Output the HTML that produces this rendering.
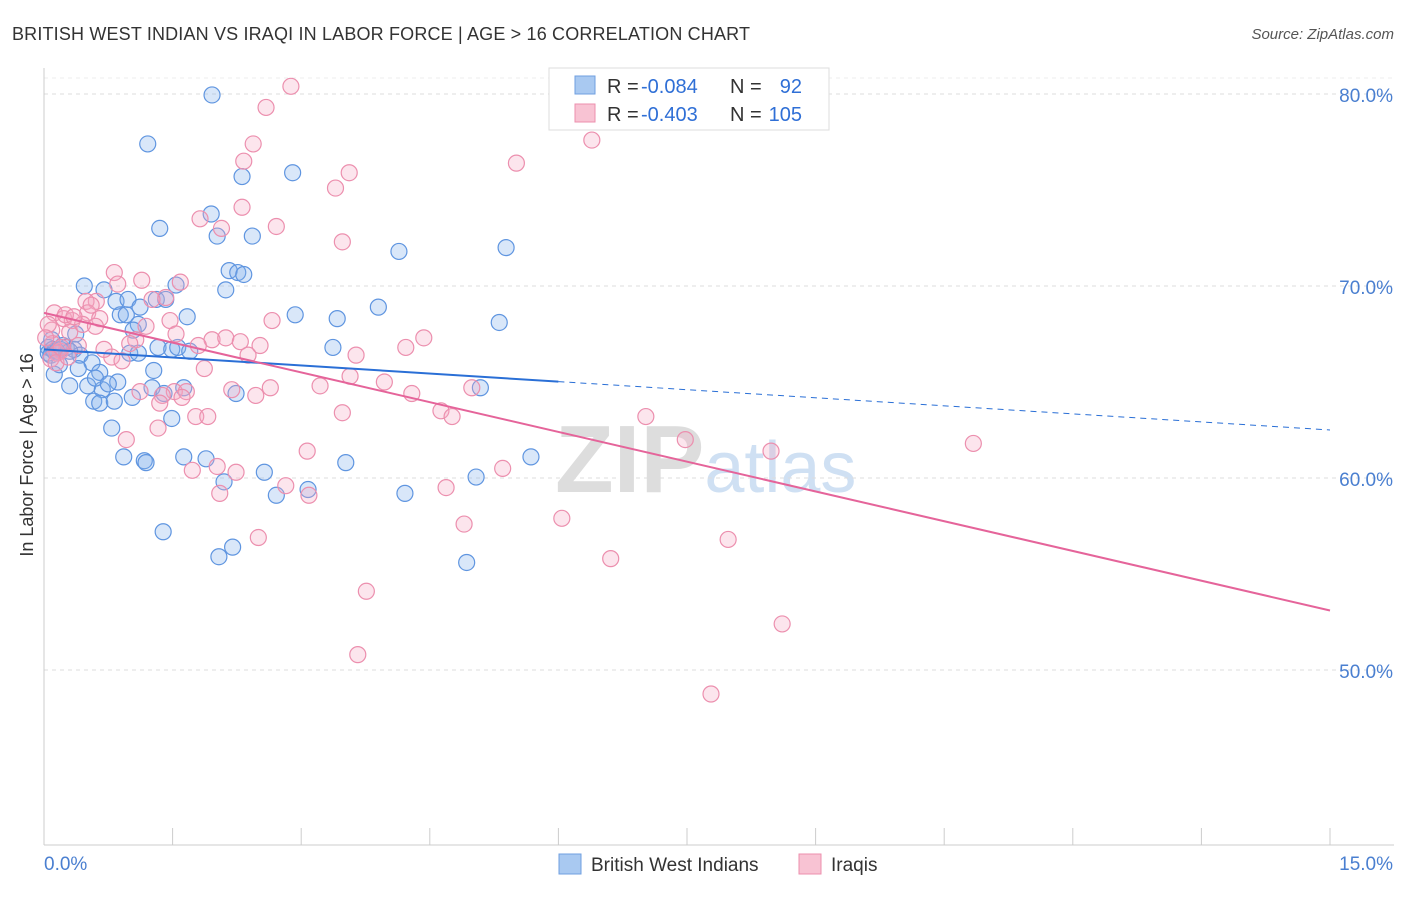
<!DOCTYPE html>
<html><head><meta charset="utf-8">
<style>
body{margin:0;background:#fff;font-family:"Liberation Sans",sans-serif;}
svg text{font-family:"Liberation Sans",sans-serif;}
</style></head>
<body>
<svg id="chart" width="1406" height="892" xmlns="http://www.w3.org/2000/svg">
<text x="12" y="40" font-size="18" fill="#333" textLength="738">BRITISH WEST INDIAN VS IRAQI IN LABOR FORCE | AGE &gt; 16 CORRELATION CHART</text>
<text x="1394" y="39" font-size="15" fill="#555" text-anchor="end" font-style="italic">Source: ZipAtlas.com</text>
<text x="555" y="492" font-size="96" fill="#ddd" font-family="Liberation Serif" font-weight="bold">ZIP<tspan fill="#cfe0f3" font-family="Liberation Sans" font-weight="normal" font-size="72">atlas</tspan></text>
<g id="grid"></g>
<g id="axes"></g>
<g id="blue"></g>
<g id="pink"></g>
<g id="trends"></g>
<text transform="translate(33,455) rotate(-90)" font-size="18" fill="#333" text-anchor="middle">In Labor Force | Age &gt; 16</text>
<g>
<rect x="549" y="68" width="280" height="62" fill="#fff" stroke="#ddd"/>
<rect x="575" y="76" width="20" height="18" fill="#a9c9f1" stroke="#6f9fe0"/>
<rect x="575" y="104" width="20" height="18" fill="#f8c3d3" stroke="#ec8fae"/>
<text x="607" y="93" font-size="20" fill="#333">R =</text>
<text x="641" y="93" font-size="20" fill="#2f6fd6">-0.084</text>
<text x="730" y="93" font-size="20" fill="#333">N =</text>
<text x="802" y="93" font-size="20" fill="#2f6fd6" text-anchor="end">92</text>
<text x="607" y="121" font-size="20" fill="#333">R =</text>
<text x="641" y="121" font-size="20" fill="#2f6fd6">-0.403</text>
<text x="730" y="121" font-size="20" fill="#333">N =</text>
<text x="802" y="121" font-size="20" fill="#2f6fd6" text-anchor="end">105</text>
</g>
<g>
<rect x="559" y="854" width="22" height="20" fill="#a9c9f1" stroke="#6f9fe0"/>
<text x="591" y="871" font-size="19" fill="#333">British West Indians</text>
<rect x="799" y="854" width="22" height="20" fill="#f8c3d3" stroke="#ec8fae"/>
<text x="831" y="871" font-size="19" fill="#333">Iraqis</text>
</g>
</svg>
<script>
const yTicks=[50,60,70,80];
const yTickLabels=["50.0%","60.0%","70.0%","80.0%"];
const xTicks=[0,1.5,3,4.5,6,7.5,9,10.5,12,13.5,15];
const blueX=[1.96,1.21,2.31,2.90,1.35,1.95,2.02,2.43,4.14,5.39,2.16,2.26,2.33,2.12,0.47,0.70,0.84,0.98,1.31,1.42,1.54,1.12,0.89,0.96,1.67,2.93,3.42,3.90,5.31,1.10,1.04,0.37,0.09,0.05,0.19,0.26,0.35,0.42,0.12,1.00,1.10,1.33,1.49,1.56,1.70,3.37,0.56,0.65,0.40,1.28,0.12,0.30,0.51,0.68,0.86,1.26,1.63,0.58,0.65,0.82,1.03,1.40,2.24,5.09,0.79,1.49,0.93,1.17,1.19,1.63,1.89,2.57,3.52,5.68,5.04,2.10,2.71,3.08,4.21,1.39,2.04,2.20,4.93,0.05,0.15,0.22,0.10,0.30,0.08,0.18,0.60,0.75];
const blueY=[79.95,77.4,75.7,75.9,73.0,73.75,72.6,72.6,71.8,72.0,70.8,70.7,70.6,69.8,70.0,69.8,69.2,69.3,69.3,69.3,70.05,68.9,68.5,68.5,68.4,68.5,68.3,68.9,68.1,68.0,67.7,67.5,67.2,66.8,66.7,66.8,66.7,66.4,66.6,66.5,66.5,66.8,66.7,66.8,66.6,66.8,66.0,65.5,65.7,65.6,65.4,64.8,64.8,64.6,65.0,64.7,64.7,64.0,63.9,64.0,64.2,64.4,64.4,64.7,62.6,63.1,61.1,60.9,60.8,61.1,61.0,60.3,60.8,61.1,60.05,59.8,59.1,59.4,59.2,57.2,55.9,56.4,55.6,66.5,66.6,66.9,66.7,66.6,66.4,65.9,65.2,64.9];
const pinkX=[2.88,2.59,2.44,2.33,6.39,5.51,3.56,3.40,2.31,1.82,2.07,2.71,3.48,0.82,1.14,0.86,1.59,1.42,1.26,0.61,0.49,0.12,0.23,0.33,0.51,0.65,1.47,2.66,0.09,1.19,1.54,4.43,1.07,1.96,2.12,0.40,1.80,2.29,2.52,4.22,3.64,0.19,0.79,2.38,0.91,1.87,3.57,3.97,3.22,2.64,2.19,2.47,1.52,1.66,1.38,1.12,1.35,1.61,4.29,4.99,3.48,4.63,4.76,1.77,1.91,1.33,0.96,7.02,7.48,8.48,10.84,3.07,2.02,1.73,2.24,5.35,4.69,2.82,3.09,2.05,4.90,6.04,2.50,6.61,7.98,3.76,8.61,3.66,7.78,0.05,0.10,0.15,0.25,0.30,0.55,0.70,0.45,0.02,0.08,0.20,0.35,0.60,1.00,0.14,0.28];
const pinkY=[80.4,79.3,77.4,76.5,77.6,76.4,75.9,75.1,74.1,73.5,73.0,73.1,72.3,70.7,70.3,70.1,70.2,69.4,69.3,69.2,69.2,68.6,68.3,68.2,68.6,68.3,68.2,68.2,67.7,67.9,67.5,67.3,67.2,67.2,67.3,66.9,66.9,67.1,66.9,66.8,66.4,66.6,66.3,66.4,66.1,65.7,65.3,65.0,64.8,64.7,64.6,64.3,64.5,64.5,64.3,64.5,63.9,64.2,64.4,64.7,63.4,63.5,63.2,63.2,63.2,62.6,62.0,63.2,62.0,61.4,61.8,61.4,60.6,60.4,60.3,60.5,59.5,59.6,59.1,59.2,57.6,57.9,56.9,55.8,56.8,54.1,52.4,50.8,48.75,68.0,67.0,66.5,68.5,67.6,69.0,66.7,68.0,67.3,66.2,66.8,68.4,67.9,67.0,66.0,66.3];
const blueTrend=[66.7,62.5];
const pinkTrend=[68.6,53.1];
const blueSolidEnd=6.0;

const NS="http://www.w3.org/2000/svg";
const X0=44,X1=1330,YT=94,YB=670;
const xs=v=>X0+(v/15)*(X1-X0);
const ys=v=>YB-(v-50)/30*(YB-YT);
function mk(tag,attrs,parent){const e=document.createElementNS(NS,tag);for(const k in attrs)e.setAttribute(k,attrs[k]);parent.appendChild(e);return e;}
const grid=document.getElementById('grid'),axes=document.getElementById('axes');
yTicks.forEach((t,i)=>{
  const l=mk('line',{x1:X0,x2:1394,y1:ys(t),y2:ys(t),stroke:'#ddd','stroke-dasharray':'4,4'},grid);
  
  
  const tx=mk('text',{x:1393,y:ys(t)+8,'font-size':19,fill:'#4a7fd0','text-anchor':'end'},axes);
  tx.textContent=yTickLabels[i];
  
  
});
const tg=mk('line',{x1:X0,x2:1394,y1:78,y2:78,stroke:'#eee','stroke-dasharray':'4,4'},grid);


const xa=mk('line',{x1:X0,x2:1394,y1:845,y2:845,stroke:'#ccc'},axes);


const ya=mk('line',{x1:X0,x2:X0,y1:68,y2:845,stroke:'#ccc'},axes);


xTicks.forEach(t=>{
  const l=mk('line',{x1:xs(t),x2:xs(t),y1:828,y2:845,stroke:'#ccc'},axes);
  
  
});
const xl0=mk('text',{x:44,y:870,'font-size':19,fill:'#4a7fd0'},axes);xl0.textContent='0.0%';


const xl1=mk('text',{x:1393,y:870,'font-size':19,fill:'#4a7fd0','text-anchor':'end'},axes);xl1.textContent='15.0%';


const bg=document.getElementById('blue');
blueX.forEach((x,i)=>{
  const c=mk('circle',{cx:xs(x),cy:ys(blueY[i]),r:8,fill:'rgba(130,175,235,0.3)',stroke:'#5f95e0','stroke-width':1.2},bg);
  
  
});
const pg=document.getElementById('pink');
pinkX.forEach((x,i)=>{
  const c=mk('circle',{cx:xs(x),cy:ys(pinkY[i]),r:8,fill:'rgba(245,170,195,0.3)',stroke:'#ec8fae','stroke-width':1.2},pg);
  
  
});
const trg=document.getElementById('trends');
const bAt=x=>blueTrend[0]+(blueTrend[1]-blueTrend[0])*x/15;
const t1=mk('line',{x1:xs(0),y1:ys(bAt(0)),x2:xs(blueSolidEnd),y2:ys(bAt(blueSolidEnd)),stroke:'#2a6fd6','stroke-width':2},trg);


const t2=mk('line',{x1:xs(blueSolidEnd),y1:ys(bAt(blueSolidEnd)),x2:xs(15),y2:ys(bAt(15)),stroke:'#2a6fd6','stroke-width':1,'stroke-dasharray':'6,5'},trg);


const t3=mk('line',{x1:xs(0),y1:ys(pinkTrend[0]),x2:xs(15),y2:ys(pinkTrend[1]),stroke:'#e5649a','stroke-width':2},trg);


</script>
</body></html>
